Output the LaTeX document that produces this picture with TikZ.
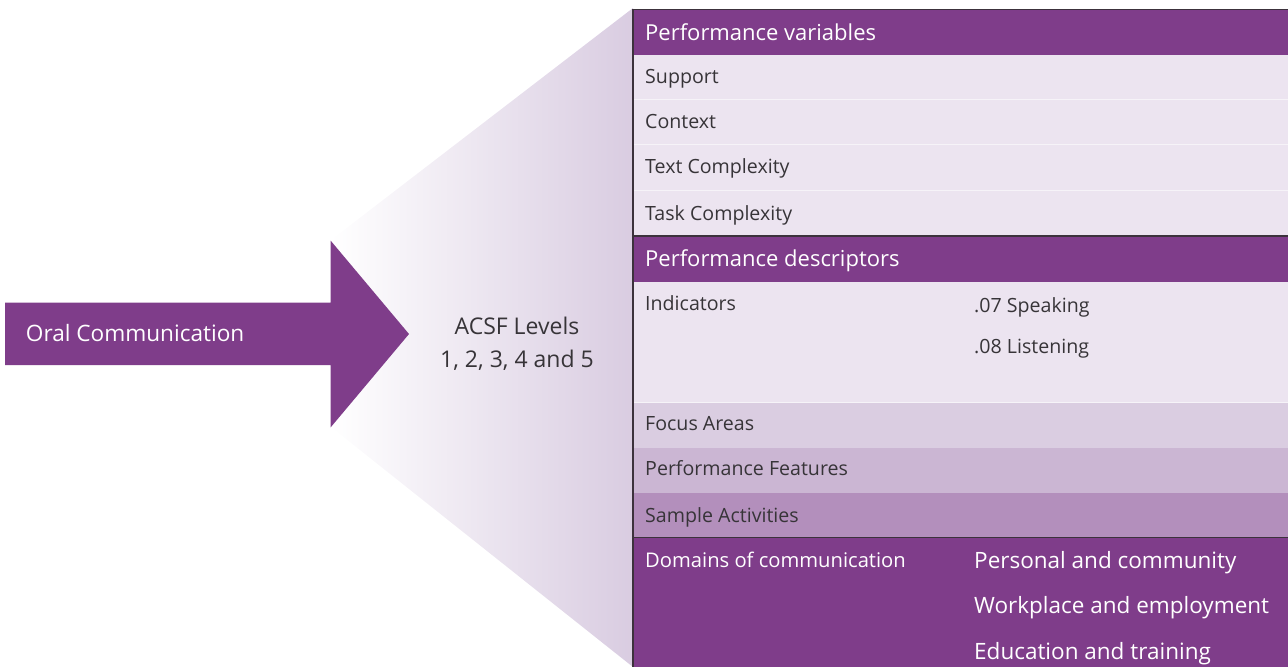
\documentclass[tikz,border=0pt]{standalone}
\usepackage{fontspec}
\setmainfont{Open Sans}
\definecolor{acsfpurple}{RGB}{127,61,138}
\definecolor{rowlight}{RGB}{236,228,240}
\definecolor{rowfocus}{RGB}{218,205,225}
\definecolor{rowfeat}{RGB}{203,182,211}
\definecolor{rowsample}{RGB}{179,143,188}
\definecolor{funnelend}{RGB}{217,204,225}
\definecolor{bodytext}{RGB}{55,52,56}
\definecolor{edgegrey}{RGB}{60,50,60}
\begin{document}
\begin{tikzpicture}[x=1pt, y=-1pt,
    every node/.style={inner sep=0pt, anchor=base west},
    rowtext/.style={text=bodytext, font=\fontsize{19.6}{22}\selectfont},
    headtext/.style={text=white, font=\fontsize{22}{24}\selectfont},
    domtext/.style={text=white, font=\fontsize{22.5}{26}\selectfont}]
    \useasboundingbox (0,0) rectangle (1288,667);

    % Funnel behind the levels
    \shade[left color=white, right color=funnelend] (331,240) -- (633,8) -- (633,667) -- (331,427) -- cycle;

    % Big arrow
    \fill[acsfpurple] (5,302.7) -- (330.7,302.7) -- (330.7,240.7) -- (409,334) -- (330.7,427.3) -- (330.7,365) -- (5,365) -- cycle;
    \node[headtext, font=\fontsize{22.6}{24}\selectfont] (oral) at (25.7,341.5) {Oral Communication};
    \node[anchor=center, align=center, text=bodytext, font=\fontsize{23}{33.3}\selectfont] (levels) at (517,344) {ACSF Levels\\1, 2, 3, 4 and 5};

    % Row backgrounds
    \fill[acsfpurple] (633,9.3) rectangle (1288,54.5);
    \fill[rowlight] (633,54.5) rectangle (1288,236);
    \fill[acsfpurple] (633,236) rectangle (1288,282);
    \fill[rowlight] (633,282) rectangle (1288,402.3);
    \fill[rowfocus] (633,402.3) rectangle (1288,447.7);
    \fill[rowfeat] (633,447.7) rectangle (1288,492.7);
    \fill[rowsample] (633,492.7) rectangle (1288,537.7);
    \fill[acsfpurple] (633,537.7) rectangle (1288,667);

    % Separators
    \foreach \y in {99.5,144.7,190,402.3}
        \draw[white!55!rowlight, line width=0.7] (634,\y) -- (1288,\y);
    \draw[edgegrey, line width=1.3] (1288,9.3) -- (633,9.3) -- (633,667);
    \draw[edgegrey, line width=1.3] (633,236) -- (1288,236);
    \draw[edgegrey, line width=1.3] (633,537.7) -- (1288,537.7);

    % Performance variables
    \node[headtext] (pvar) at (645,40.8) {Performance variables};
    \foreach \name/\txt/\y in {support/Support/76.7, context/Context/121.7, textcx/Text Complexity/166.7, taskcx/Task Complexity/213}
        \node[rowtext] (\name) at (645,\y+7) {\txt};

    % Performance descriptors
    \node[headtext] (pdesc) at (645,266.8) {Performance descriptors};
    \node[rowtext] (indic) at (645,310.3) {Indicators};
    \node[rowtext] (speak) at (974,312) {.07 Speaking};
    \node[rowtext] (listen) at (974,353.7) {.08 Listening};
    \node[rowtext] (focus) at (645,430) {Focus Areas};
    \node[rowtext] (feat) at (645,475) {Performance Features};
    \node[rowtext] (sample) at (645,522) {Sample Activities};

    % Domains
    \node[rowtext, text=white, font=\fontsize{20.2}{22}\selectfont] (domains) at (645,567) {Domains of communication};
    \node[domtext] (personal) at (974,568.2) {Personal and community};
    \node[domtext] (work) at (974,613.2) {Workplace and employment};
    \node[domtext] (edu) at (974,659.9) {Education and training};
\end{tikzpicture}
\end{document}
